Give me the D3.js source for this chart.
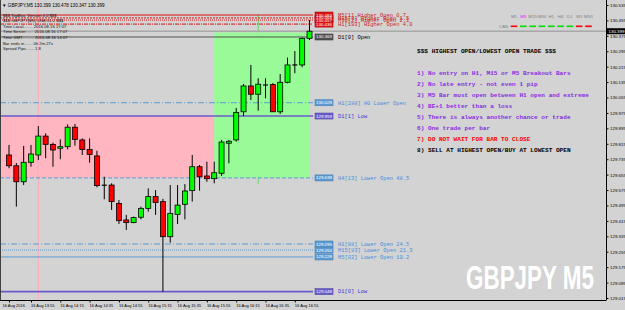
<!DOCTYPE html>
<html>
<head>
<meta charset="utf-8">
<script src="https://cdn.jsdelivr.net/npm/d3@7"></script>
<style>
    body { margin: 0; background: #d3d3d3; }
    svg { display: block; }
    text { font-family: "Liberation Sans", Arial, sans-serif; }
    .mono { font-family: "Liberation Mono", "Courier New", monospace; }
</style>
</head>
<body>
<div id="chart"></div>
<script>
// GBPJPY M5 - highest open / lowest open chart
const opens  = [129.757,129.701,129.618,129.719,129.757,129.855,129.812,129.792,129.800,129.901,129.835,129.786,129.752,129.600,129.601,129.506,129.420,129.406,129.434,129.480,129.541,129.515,129.333,129.449,129.501,129.572,129.696,129.648,129.634,129.662,129.818,129.835,129.981,130.115,130.072,130.120,130.122,129.981,130.134,130.224,130.224,130.362];
const highs  = [129.809,129.715,129.804,129.809,129.907,129.869,129.821,129.838,129.916,129.918,129.843,129.843,129.779,129.644,129.610,129.523,129.446,129.437,129.489,129.584,129.575,129.529,129.601,129.601,129.606,129.757,129.705,129.722,129.722,129.835,129.835,130.001,130.125,130.224,130.155,130.155,130.130,130.177,130.262,130.296,130.367,130.457];
const lows   = [129.688,129.489,129.601,129.696,129.731,129.740,129.696,129.735,129.786,129.805,129.757,129.717,129.589,129.527,129.472,129.399,129.368,129.403,129.423,129.463,129.446,129.048,129.302,129.399,129.423,129.515,129.572,129.618,129.610,129.648,129.714,129.826,129.959,130.042,129.987,130.051,129.980,129.970,130.129,130.181,130.212,130.353];
const closes = [129.701,129.618,129.719,129.762,129.855,129.812,129.783,129.800,129.901,129.838,129.786,129.760,129.598,129.600,129.515,129.416,129.406,129.432,129.480,129.541,129.511,129.333,129.454,129.497,129.570,129.696,129.644,129.634,129.665,129.824,129.828,129.978,130.115,130.072,130.124,130.120,129.981,130.134,130.224,130.224,130.362,130.399];

const timeTickBars = [0, 3, 7, 11, 15, 19, 23, 27, 31, 35, 39];
const timeTickLabels = ['16 Aug 2016','16 Aug 13:55','16 Aug 14:15','16 Aug 14:35','16 Aug 14:55','16 Aug 15:15','16 Aug 15:35','16 Aug 15:55','16 Aug 16:15','16 Aug 16:35','16 Aug 16:55'];
const priceTicks = [130.535,130.455,130.375,130.295,130.215,130.135,130.055,129.975,129.895,129.815,129.735,129.655,129.575,129.495,129.415,129.335,129.255,129.175,129.095,129.015];
const bidPrice = 130.399;

// hour boxes: previous (pink) and current (green)
const boxFrom   = [-3, 28];
const boxTo     = [28, 41];
const boxTop    = [129.959, 130.392];
const boxBottom = [129.638, 129.638];

const separatorBars = [4, 34];

const levelNames  = ['M5[1] Higher Open 0.7','M15[3] Higher Open 1.5','M30[2] Higher Open 2.1','H1[193] Higher Open 4.0','D1[0] Open','H1[288] H0 Lower Open','D1[1] Low','H4[13] Lower Open 48.5','H1[88] Lower Open 24.5','M15[83] Lower Open 21.3','M5[02] Lower Open 19.2','D1[0] Low'];
const levelPrices = [130.483, 130.468, 130.457, 130.436, 130.369, 130.028, 129.959, 129.638, 129.295, 129.264, 129.228, 129.048];
const levelKinds  = ['high','high','high','high','open','lower','low','lower','lower','lower','lower','low'];
const levelDash   = ['', '2,1', '1,1', '4,1,1,1', '', '6,2,1,2', '', '4,2', '6,2,1,2', '1,1', '', ''];

const infoLines = ['$$$ TopBox, Version 4.0 $$$','$$$ GBPJPY[M5] UNB 01.2 $$$','Time Local........ 2016.08.16 17:07','Time Server....... 2016.08.16 17:07','Time GMT.......... 2016.08.16 14:07','Bar ends in....... 0h 2m 27s','Spread Pips....... 1.8'];

const ruleTitle = '$$$ HIGHEST OPEN/LOWEST OPEN TRADE $$$';
const rules = ['1) No entry on H1, M15 or M5 Breakout Bars','2) No late entry - not even 1 pip','3) M5 Bar must open between H1 open and extreme','4) BE+1 better than a loss','5) There is always another chance or trade','6) One trade per bar','7) DO NOT WAIT FOR BAR TO CLOSE','8) SELL AT HIGHEST OPEN/BUY AT LOWEST OPEN'];
const ruleColors = ['#8a2be2','#8a2be2','#8a2be2','#8a2be2','#8a2be2','#8a2be2','#ff0000','#000000'];

const tfNames = ['M1','M5','M15','M30','H1','H4','D1','W1','MN1'];
const tfUp    = [false, true, true, true, true, true, true, false, false];

(function() {
    const width = 625, height = 310;
    const plotW = 606, plotH = 300;

    const kindColor = {high: '#dd1111', open: '#505050', lower: '#5b9bd5', low: '#6a5acd'};
    const kindText  = {high: '#cc2222', open: '#000000', lower: '#4a8fdc', low: '#3a3ad0'};

    const svg = d3.select('#chart').append('svg')
        .attr('width', width).attr('height', height);

    svg.append('rect').attr('width', width).attr('height', height).attr('fill', '#d3d3d3');

    const x = d3.scaleLinear().domain([0, 41]).range([9, 309.5]);
    const y = d3.scaleLinear().domain([129.015, 130.535]).range([298, 5]);

    svg.append('clipPath').attr('id', 'plotclip')
        .append('rect').attr('width', plotW).attr('height', plotH);
    const g = svg.append('g').attr('clip-path', 'url(#plotclip)');

    // green separator sits under the boxes
    g.append('line')
        .attr('x1', x(separatorBars[1])).attr('x2', x(separatorBars[1]))
        .attr('y1', 14).attr('y2', 184)
        .attr('stroke', '#66dd66').attr('stroke-width', 1);

    // boxes
    const boxColors = ['#ffb6c1', '#98fb98'];
    g.selectAll('.box')
        .data(boxFrom.map((f, i) => ({f, t: boxTo[i], top: boxTop[i], bot: boxBottom[i], c: boxColors[i]})))
        .enter().append('rect')
        .attr('x', d => x(d.f))
        .attr('y', d => y(d.top))
        .attr('width', d => x(d.t) - x(d.f))
        .attr('height', d => y(d.bot) - y(d.top))
        .attr('fill', d => d.c);

    g.append('line')
        .attr('x1', x(separatorBars[0])).attr('x2', x(separatorBars[0]))
        .attr('y1', 0).attr('y2', plotH)
        .attr('stroke', '#ffaabb').attr('stroke-width', 1);

    // bid line
    g.append('line')
        .attr('x1', 0).attr('x2', plotW)
        .attr('y1', y(bidPrice)).attr('y2', y(bidPrice))
        .attr('stroke', '#a8a8a8').attr('stroke-width', 1.5);

    // levels
    const levels = levelNames.map((n, i) => ({name: n, price: levelPrices[i], kind: levelKinds[i], dash: levelDash[i]}));
    const xLineEnd = 313;
    g.selectAll('.level')
        .data(levels)
        .enter().append('line')
        .attr('x1', 0).attr('x2', xLineEnd)
        .attr('y1', d => y(d.price)).attr('y2', d => y(d.price))
        .attr('stroke', d => kindColor[d.kind])
        .attr('stroke-width', d => d.kind === 'low' ? 1.6 : 1)
        .attr('stroke-dasharray', d => d.dash);

    // candles
    const bars = opens.map((o, i) => ({i, o, h: highs[i], l: lows[i], c: closes[i]}));
    const bw = 5;
    g.selectAll('.wick')
        .data(bars).enter().append('line')
        .attr('x1', d => x(d.i)).attr('x2', d => x(d.i))
        .attr('y1', d => y(d.h)).attr('y2', d => y(d.l))
        .attr('stroke', '#000').attr('stroke-width', 1);
    g.selectAll('.body')
        .data(bars.filter(d => d.o !== d.c)).enter().append('rect')
        .attr('x', d => x(d.i) - bw / 2)
        .attr('y', d => y(Math.max(d.o, d.c)))
        .attr('width', bw)
        .attr('height', d => Math.max(1, Math.abs(y(d.o) - y(d.c))))
        .attr('fill', d => d.c > d.o ? '#00ff00' : '#ff0000')
        .attr('stroke', '#000').attr('stroke-width', 0.8);
    g.selectAll('.doji')
        .data(bars.filter(d => d.o === d.c)).enter().append('line')
        .attr('x1', d => x(d.i) - bw / 2).attr('x2', d => x(d.i) + bw / 2)
        .attr('y1', d => y(d.o)).attr('y2', d => y(d.o))
        .attr('stroke', '#000').attr('stroke-width', 1.2);

    // level price boxes and names
    g.selectAll('.lbox')
        .data(levels).enter().append('rect')
        .attr('x', 315).attr('y', d => y(d.price) - 3)
        .attr('width', 18).attr('height', 6)
        .attr('fill', d => kindColor[d.kind])
        .attr('stroke', d => d3.color(kindColor[d.kind]).darker(0.6))
        .attr('stroke-width', 0.6);
    g.selectAll('.lval')
        .data(levels).enter().append('text')
        .attr('x', 324).attr('y', d => y(d.price) + 1.5)
        .attr('text-anchor', 'middle')
        .attr('font-size', '4.4px').attr('fill', '#fff')
        .text(d => d.price.toFixed(3));
    g.selectAll('.lname')
        .data(levels).enter().append('text')
        .attr('class', 'mono')
        .attr('x', 338).attr('y', d => y(d.price) + 1.8)
        .attr('font-size', '5.4px')
        .attr('fill', d => kindText[d.kind])
        .text(d => d.name);

    // watermark, squeezed to its width with a transform
    const wm = g.append('text')
        .attr('font-family', '"DejaVu Sans", sans-serif')
        .attr('font-size', '34px').attr('font-weight', 'bold')
        .attr('fill', '#ffffff')
        .text('GBPJPY M5');
    const wmScale = 128 / wm.node().getComputedTextLength();
    wm.attr('transform', `translate(466,289) scale(${wmScale},1)`);

    // rules block
    g.append('text').attr('class', 'mono')
        .attr('x', 417).attr('y', 53)
        .attr('font-size', '6.1px').attr('font-weight', 'bold').attr('fill', '#000')
        .text(ruleTitle);
    g.selectAll('.rule')
        .data(rules).enter().append('text')
        .attr('class', 'mono')
        .attr('x', 417).attr('y', (d, i) => 75 + i * 10.95)
        .attr('font-size', '6.1px').attr('font-weight', 'bold')
        .attr('fill', (d, i) => ruleColors[i])
        .text(d => d);

    // timeframe status
    const tf = d3.scalePoint().domain(tfNames).range([514, 588.5]);
    g.selectAll('.tfl')
        .data(tfNames).enter().append('text')
        .attr('x', d => tf(d)).attr('y', 18)
        .attr('text-anchor', 'middle')
        .attr('font-size', '4.4px')
        .attr('fill', d => d === 'M5' ? '#ff00ff' : '#808080')
        .text(d => d);
    g.selectAll('.tfd')
        .data(tfNames).enter().append('rect')
        .attr('x', d => tf(d) - 3.3).attr('y', 25.5)
        .attr('width', 6.6).attr('height', 1.6)
        .attr('fill', (d, i) => tfUp[i] ? '#00dd00' : '#ff0000');
    g.append('text')
        .attr('x', 499).attr('y', 28)
        .attr('font-size', '4.4px').attr('fill', '#808080')
        .text('CAN');

    // info panel
    svg.append('text')
        .attr('x', 2).attr('y', 7)
        .attr('font-size', '4.6px').attr('fill', '#000')
        .text('\u25BC GBPJPY,M5  130.399 130.478 130.347 130.399');
    svg.selectAll('.info')
        .data(infoLines).enter().append('text')
        .attr('x', 3).attr('y', (d, i) => 16.5 + i * 5.6)
        .attr('font-size', '4.2px').attr('fill', '#111')
        .text(d => d);

    // frame
    svg.append('line').attr('x1', 0.5).attr('x2', 0.5).attr('y1', 0).attr('y2', plotH)
        .attr('stroke', '#404040');
    svg.append('line').attr('x1', 0).attr('x2', plotW + 0.5).attr('y1', plotH + 0.5).attr('y2', plotH + 0.5)
        .attr('stroke', '#000');

    // price axis
    const yAxis = svg.append('g')
        .attr('transform', `translate(${plotW + 0.5},0)`)
        .call(d3.axisRight(y).tickValues(priceTicks).tickSize(2).tickPadding(1.5).tickFormat(d3.format('.3f')));
    yAxis.select('.domain').attr('d', `M0,0V${plotH}`).attr('stroke', '#000');
    yAxis.selectAll('text').attr('font-size', '4.4px').attr('font-family', '"Liberation Sans", Arial, sans-serif').attr('fill', '#000');

    svg.append('rect')
        .attr('x', plotW + 0.5).attr('y', y(bidPrice) - 3)
        .attr('width', 19).attr('height', 6).attr('fill', '#000');
    svg.append('text')
        .attr('x', plotW + 2.5).attr('y', y(bidPrice) + 1.6)
        .attr('font-size', '4.4px').attr('fill', '#fff')
        .text(bidPrice.toFixed(3));

    // time axis
    const xAxis = svg.append('g')
        .attr('transform', `translate(0,${plotH + 0.5})`)
        .call(d3.axisBottom(x).tickValues(timeTickBars).tickSize(2).tickPadding(1.5)
            .tickFormat((d, i) => timeTickLabels[i]));
    xAxis.select('.domain').remove();
    xAxis.selectAll('text')
        .attr('text-anchor', 'start')
        .attr('dx', (d, i) => i === 0 ? -7 : -0.5)
        .attr('font-size', '4px')
        .attr('font-family', '"Liberation Sans", Arial, sans-serif')
        .attr('fill', '#000');
})();
</script>
</body>
</html>
